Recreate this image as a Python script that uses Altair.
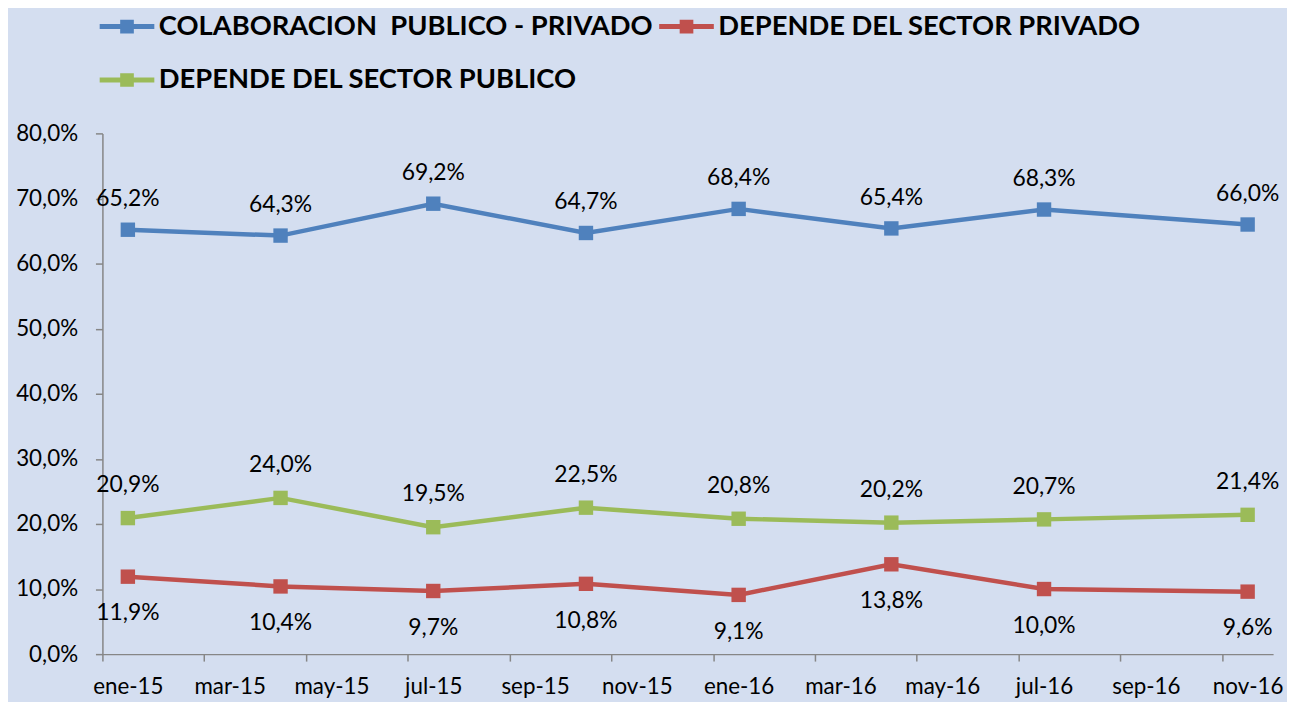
import altair as alt
import pandas as pd

# ---- data ----
month_names = ["ene", "feb", "mar", "abr", "may", "jun", "jul", "ago", "sep", "oct", "nov", "dic"]
periods = ["ene-15", "abr-15", "jul-15", "oct-15", "ene-16", "abr-16", "jul-16", "nov-16"]
series_names = ["COLABORACION\u00a0 PUBLICO - PRIVADO", "DEPENDE DEL SECTOR PRIVADO", "DEPENDE DEL SECTOR PUBLICO"]
colaboracion = [65.2, 64.3, 69.2, 64.7, 68.4, 65.4, 68.3, 66.0]
privado = [11.9, 10.4, 9.7, 10.8, 9.1, 13.8, 10.0, 9.6]
publico = [20.9, 24.0, 19.5, 22.5, 20.8, 20.2, 20.7, 21.4]
colors = ["#4F81BD", "#C0504D", "#9BBB59"]
y_ticks = [0, 10, 20, 30, 40, 50, 60, 70, 80]
x_tick_marks = [-0.5, 1.5, 3.5, 5.5, 7.5, 9.5, 11.5, 13.5, 15.5, 17.5, 19.5, 21.5]
label_dy = [-31, 37, -33]

def month_idx(p):
    return month_names.index(p[:3]) + 12 * (int(p[4:]) - 15)

rows = []
for name, vals in zip(series_names, [colaboracion, privado, publico]):
    for p, v in zip(periods, vals):
        rows.append({"periodo": p, "m": month_idx(p), "serie": name, "valor": v})
df = pd.DataFrame(rows)

W, H = 1178, 524
px_per_month = W / 23.0

month_arr = "[" + ",".join("'%s'" % m for m in month_names) + "]"
x_label_expr = (month_arr + "[(datum.value + 0.5) % 12] + '-' + (15 + floor((datum.value + 0.5) / 12))")

FONT = "Lato"

x_enc = alt.X("m:Q",
              scale=alt.Scale(domain=[-0.5, 22.5], nice=False, zero=False),
              axis=alt.Axis(title=None, values=x_tick_marks, labelExpr=x_label_expr,
                            labelOffset=px_per_month / 2, tickSize=7, labelPadding=15,
                            labelAlign="center", labelFlush=False, labelOverlap=False,
                            labelBound=False, grid=False))
y_enc = alt.Y("valor:Q",
              scale=alt.Scale(domain=[0, 80], nice=False),
              axis=alt.Axis(title=None, values=y_ticks,
                            labelExpr="replace(format(datum.value, '.1f'), '.', ',') + '%'",
                            tickSize=7, labelPadding=18, grid=False))

legend_path = "M-2,-0.18H2V0.18H-2Z M-0.5,-0.5H0.5V0.5H-0.5Z"

color_enc = alt.Color(
    "serie:N",
    scale=alt.Scale(domain=series_names, range=colors),
    sort=series_names,
    legend=alt.Legend(title=None, orient="none", legendX=10.75, legendY=-121.75,
                      direction="horizontal", columns=2,
                      symbolType=legend_path, symbolSize=756,
                      symbolStrokeWidth=0, symbolOpacity=1,
                      labelFont=FONT, labelFontSize=27.5, labelFontWeight="bold",
                      labelColor="black", labelLimit=1000, labelOffset=18,
                      rowPadding=26, columnPadding=5, padding=0),
)

base = alt.Chart(df)

lines = base.mark_line(strokeWidth=4.5).encode(
    x=x_enc, y=y_enc, color=color_enc, detail="serie:N",
)

points = base.mark_point(shape="square", filled=True, size=210, opacity=1).encode(
    x=x_enc, y=y_enc, color=color_enc,
)

texts = []
for name, dy in zip(series_names, label_dy):
    t = base.transform_filter(alt.datum.serie == name).transform_calculate(
        lab="replace(format(datum.valor, '.1f'), '.', ',') + '%'"
    ).mark_text(font=FONT, fontSize=23, color="black", dy=dy).encode(
        x=x_enc, y=y_enc, text="lab:N"
    )
    texts.append(t)

chart = alt.layer(lines, points, *texts).properties(
    width=W, height=H,
    autosize=alt.AutoSizeParams(type="none"),
    padding={"left": 95, "top": 124, "right": 14, "bottom": 46},
    background="#D4DEF0",
).configure_view(stroke=None).configure_axis(
    labelFont=FONT, labelFontSize=22.5, labelColor="black",
    domainColor="#868686", tickColor="#868686", domainWidth=1.5, tickWidth=1.5,
)

chart.save("out.html", embed_options={"renderer": "svg", "actions": False})
